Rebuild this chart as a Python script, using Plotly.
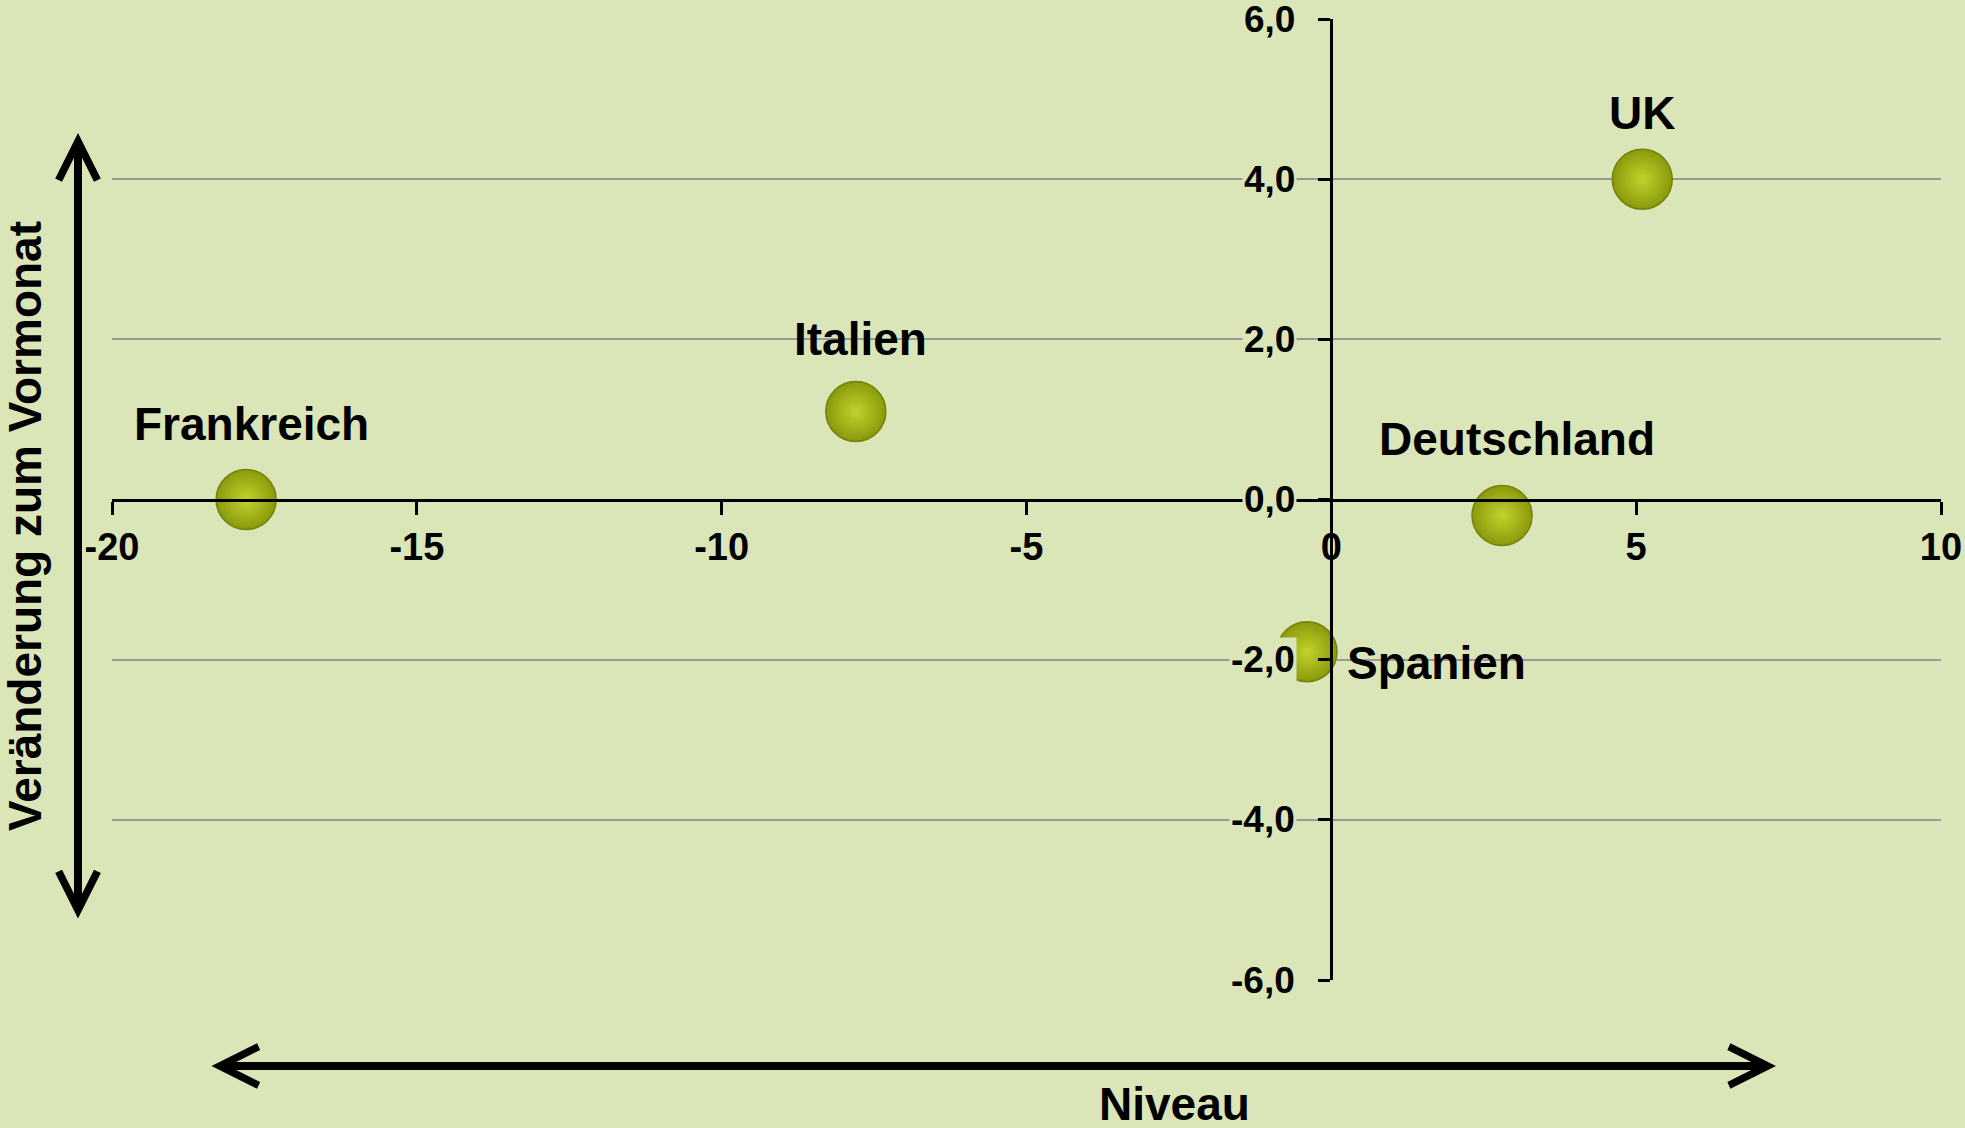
import plotly.graph_objects as go

# ---- data ----
countries = ["Frankreich", "Italien", "UK", "Deutschland", "Spanien"]
niveau = [-17.8, -7.8, 5.1, 2.8, -0.4]
veraenderung = [0.0, 1.1, 4.0, -0.2, -1.9]

x_tickvals = [-20, -15, -10, -5, 0, 5, 10]
x_ticktext = ["-20", "-15", "-10", "-5", "0", "5", "10"]
y_tickvals = [-6, -4, -2, 0, 2, 4, 6]
y_ticktext = ["-6,0", "-4,0", "-2,0", "0,0", "2,0", "4,0", "6,0"]

x_title = "Niveau"
y_title = "Veränderung zum Vormonat"

# ---- styling ----
BG = "#dae5b8"
FONT = "Arial, Liberation Sans, sans-serif"
W, H = 1965, 1128
ML, MR, MT, MB = 112, 24, 19, 148
PW, PH = W - ML - MR, H - MT - MB

# label offsets in pixels (xshift, yshift, xanchor)
label_pos = {
    "Frankreich": (5, 76, "center"),
    "Italien": (5, 72, "center"),
    "UK": (0, 66, "center"),
    "Deutschland": (15, 77, "center"),
    "Spanien": (38, -11, "left"),
}

def px_x(p):
    return (p - ML) / PW

def px_y(p):
    return (H - MB - p) / PH

fig = go.Figure()
fig.add_trace(go.Scatter(
    x=niveau, y=veraenderung, mode="markers",
    marker=dict(size=60, color="#8a990b",
                gradient=dict(type="radial", color="#c2d22c"),
                line=dict(color="#74820a", width=1.5)),
    hoverinfo="text", text=countries, showlegend=False,
))

annotations = []
for c, xv, yv in zip(countries, niveau, veraenderung):
    xs, ys, xa = label_pos[c]
    annotations.append(dict(
        x=xv, y=yv, xref="x", yref="y", text=c, showarrow=False,
        xanchor=xa, yanchor="middle", xshift=xs, yshift=ys,
        font=dict(family=FONT, size=46, color="black", weight="bold"),
    ))

# y tick labels with background (hide gridlines behind them)
for v, t in zip(y_tickvals, y_ticktext):
    annotations.append(dict(
        x=0, y=v, xref="x", yref="y", text=t, showarrow=False,
        xanchor="right", yanchor="middle", xshift=-34, yshift=0,
        bgcolor=BG, borderpad=1,
        font=dict(family=FONT, size=37, color="black", weight="bold"),
    ))

# axis titles
annotations.append(dict(
    x=px_x(1174), y=px_y(1104), xref="paper", yref="paper", text=x_title,
    showarrow=False, xanchor="center", yanchor="middle",
    font=dict(family=FONT, size=46, color="black", weight="bold"),
))
annotations.append(dict(
    x=px_x(25), y=px_y(526), xref="paper", yref="paper", text=y_title,
    showarrow=False, xanchor="center", yanchor="middle", textangle=-90,
    font=dict(family=FONT, size=46, color="black", weight="bold"),
))

# double-headed arrows
annotations.append(dict(
    x=px_x(78), y=px_y(133), xref="paper", yref="paper",
    ax=0, ay=787, axref="pixel", ayref="pixel", text="",
    showarrow=True, arrowhead=5, startarrowhead=5, arrowside="end+start",
    arrowwidth=8, arrowsize=0.95, startarrowsize=0.95, arrowcolor="black",
))
annotations.append(dict(
    x=px_x(1776), y=px_y(1066), xref="paper", yref="paper",
    ax=-1566, ay=0, axref="pixel", ayref="pixel", text="",
    showarrow=True, arrowhead=5, startarrowhead=5, arrowside="end+start",
    arrowwidth=8, arrowsize=0.95, startarrowsize=0.95, arrowcolor="black",
))

fig.update_layout(
    width=W, height=H, autosize=False,
    margin=dict(l=ML, r=MR, t=MT, b=MB, pad=0, autoexpand=False),
    paper_bgcolor=BG, plot_bgcolor=BG,
    showlegend=False,
    annotations=annotations,
    xaxis=dict(
        range=[-20, 10], anchor="free", position=0.5, automargin=False,
        tickvals=x_tickvals, ticktext=x_ticktext,
        showgrid=False, zeroline=False,
        showline=True, linecolor="black", linewidth=3,
        ticks="outside", ticklen=13, tickwidth=3, tickcolor="black",
        tickfont=dict(family=FONT, size=38, color="black", weight="bold"),
    ),
    yaxis=dict(
        range=[-6, 6], anchor="free", position=20 / 30, automargin=False,
        tickvals=y_tickvals, showticklabels=False,
        showgrid=True, gridcolor="#9a9a9a", gridwidth=1.5,
        zeroline=False,
        showline=True, linecolor="black", linewidth=3,
        ticks="outside", ticklen=12, tickwidth=3, tickcolor="black",
    ),
)

fig.write_html(
    "out.html",
    config={"displayModeBar": False},
    post_script="document.body.style.margin='0px';document.body.style.padding='0px';document.body.style.background='%s';" % BG,
)
